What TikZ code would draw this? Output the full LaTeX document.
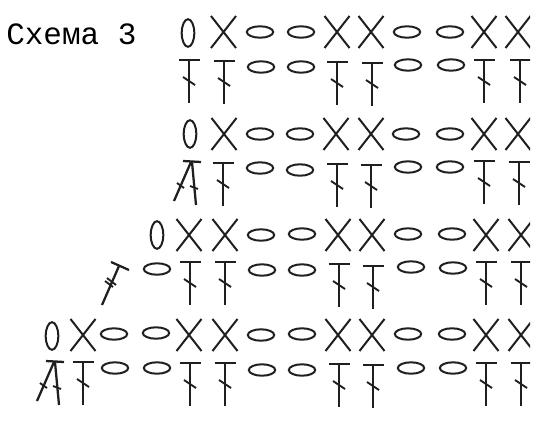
\documentclass[tikz,border=0pt]{standalone}
\usepackage{fontspec}
\newfontfamily\titlefont{Liberation Mono}
\tikzset{
  stitch/.style={line width=1.5pt,color=black!88},
  stem/.style={line width=1.7pt,color=black!88},
  tick/.style={line width=1.4pt,color=black!88}
}
\newcommand{\chainst}[2]{\draw[stitch] (#1,#2) ellipse (13.2 and 5.7);}
\newcommand{\turnst}[2]{\draw[stitch] (#1,#2) ellipse (6.3 and 13.8);}
\newcommand{\crossst}[2]{
  \draw[stitch] (#1-12.5,#2-16) -- (#1+12.5,#2+16);
  \draw[stitch] (#1+12.5,#2-16) -- (#1-12.5,#2+16);
}
\newcommand{\tallst}[2]{
  \draw[stem] (#1-10.5,#2) -- (#1+10.5,#2);
  \draw[stem] (#1,#2) -- (#1,#2+43);
  \draw[tick] (#1-6,#2+17) -- (#1+6,#2+25);
}
\newcommand{\twotallst}[2]{
  \draw[stem] (#1-8,#2-1) -- (#1+10,#2);
  \draw[stem] (#1,#2) -- (#1-17,#2+39);
  \draw[stem] (#1+1,#2) -- (#1+5,#2+43);
  \draw[tick] (#1-14,#2+21) -- (#1-7,#2+26);
  \draw[tick] (#1-1,#2+24) -- (#1+7,#2+27);
}
\begin{document}
\begin{tikzpicture}[x=0.75pt,y=-0.75pt]
\useasboundingbox (0,0) rectangle (541,428);
\node[anchor=base west,inner sep=0pt] (title) at (6,45) {\titlefont\fontsize{23.25}{26}\selectfont Схема 3};
\clip (0,0) rectangle (530,428);
% row 1
\turnst{188}{33} \crossst{223.5}{32} \chainst{260}{32} \chainst{301}{32}
\crossst{337}{32} \crossst{371}{32} \chainst{407}{32} \chainst{450}{32}
\crossst{484}{32} \crossst{518}{32}
% row 2
\tallst{189}{60} \tallst{224}{61} \chainst{261}{67} \chainst{301}{67}
\tallst{337}{62} \tallst{372}{63} \chainst{408}{65} \chainst{451}{65}
\tallst{484}{60} \tallst{520}{60}
% row 3
\turnst{190}{134} \crossst{224}{134} \chainst{260}{134} \chainst{300}{134}
\crossst{336}{134} \crossst{371}{134} \chainst{406}{134} \chainst{450}{134}
\crossst{484}{134} \crossst{518}{134}
% row 4
\twotallst{191}{162} \tallst{223}{163} \chainst{260}{168} \chainst{300}{170}
\tallst{337}{164} \tallst{371}{165} \chainst{408}{167} \chainst{450}{167}
\tallst{484}{161} \tallst{519}{162}
% row 5
\turnst{157}{235} \crossst{189}{235} \crossst{225}{235} \chainst{261}{235}
\chainst{302}{234} \crossst{338}{235} \crossst{372}{235} \chainst{408}{234}
\chainst{452}{234} \crossst{486}{235} \crossst{521}{235}
% row 6
\draw[stem] (111,262) -- (129,270);
\draw[stem] (119,266) -- (102,305);
\draw[tick] (105,281) -- (113,287);
\draw[tick] (107,278) -- (116,285);
\chainst{157}{269} \tallst{190}{262} \tallst{225}{262} \chainst{262}{270}
\chainst{302}{270} \tallst{339}{264} \tallst{373}{266} \chainst{411}{267}
\chainst{453}{268} \tallst{486}{262} \tallst{521}{262}
% row 7
\turnst{52}{336} \crossst{83}{335} \chainst{114}{334} \chainst{156}{333}
\crossst{189}{335} \crossst{225}{335} \chainst{261}{335} \chainst{302}{334}
\crossst{338}{335} \crossst{372}{335} \chainst{408}{334} \chainst{452}{334}
\crossst{486}{335} \crossst{521}{335}
% row 8
\twotallst{54}{362} \tallst{83}{362} \chainst{115}{368} \chainst{157}{368}
\tallst{190}{363} \tallst{225}{363} \chainst{262}{370} \chainst{302}{370}
\tallst{339}{364} \tallst{373}{365} \chainst{411}{368} \chainst{453}{368}
\tallst{486}{363} \tallst{521}{363}
\end{tikzpicture}
\end{document}
